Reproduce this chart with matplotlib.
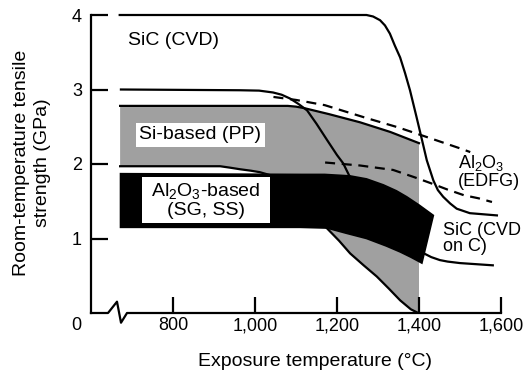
import matplotlib
matplotlib.use("Agg")
import matplotlib.pyplot as plt
from matplotlib.patches import Rectangle

plt.rcParams['font.family'] = ['Liberation Sans', 'DejaVu Sans']
plt.rcParams['mathtext.default'] = 'regular'

# SiC (CVD) fibre
sicCvdT = [670, 1272, 1288, 1305, 1317, 1329, 1341, 1354, 1366, 1378, 1394, 1407, 1419,
           1435, 1446, 1459, 1476, 1492, 1524, 1590]
sicCvdV = [4.0, 4.0, 3.98, 3.93, 3.86, 3.75, 3.59, 3.43, 3.22, 2.99, 2.63, 2.33, 2.05,
           1.78, 1.65, 1.56, 1.47, 1.40, 1.34, 1.31]

# SiC (CVD on C) fibre
sicOnCT = [673, 963, 1010, 1044, 1065, 1085, 1105, 1127, 1150, 1176, 1200, 1215, 1232,
           1320, 1412, 1430, 1451, 1470, 1500, 1580]
sicOnCV = [3.0, 2.99, 2.985, 2.96, 2.93, 2.88, 2.81, 2.72, 2.54, 2.32, 2.12, 2.01, 1.82,
           1.30, 0.80, 0.75, 0.71, 0.69, 0.67, 0.64]

# Si-based (PP) band
ppTopT = [671, 1080, 1100, 1120, 1180, 1256, 1330, 1400]
ppTopV = [2.78, 2.78, 2.77, 2.75, 2.67, 2.56, 2.43, 2.28]
ppLowLeftT = [671, 915, 940, 963, 990, 1012, 1037]
ppLowLeftV = [1.97, 1.97, 1.95, 1.93, 1.91, 1.89, 1.85]
ppLowRightT = [1175, 1205, 1232, 1265, 1297, 1326, 1354, 1380, 1398]
ppLowRightV = [1.14, 0.97, 0.80, 0.64, 0.49, 0.33, 0.17, 0.05, 0.0]

# Al2O3-based (SG, SS) band
alTopT = [672, 1110, 1170, 1232, 1272, 1313, 1345, 1370, 1400, 1435]
alTopV = [1.87, 1.86, 1.86, 1.84, 1.80, 1.72, 1.64, 1.56, 1.45, 1.31]
alBotT = [672, 1110, 1176, 1223, 1272, 1320, 1354, 1380, 1407]
alBotV = [1.15, 1.15, 1.14, 1.07, 1.00, 0.90, 0.82, 0.75, 0.67]

# Al2O3 (EDFG), two dashed curves
edfgUpT = [1045, 1100, 1170, 1270, 1350, 1420, 1500, 1525]
edfgUpV = [2.90, 2.86, 2.79, 2.62, 2.49, 2.36, 2.21, 2.16]
edfgLoT = [1171, 1256, 1337, 1390, 1430, 1468, 1510, 1545, 1578]
edfgLoV = [2.02, 1.98, 1.92, 1.82, 1.74, 1.66, 1.58, 1.54, 1.49]

xTicks = [800, 1000, 1200, 1400, 1600]
xTickLabels = ["800", "1,000", "1,200", "1,400", "1,600"]
yTicks = [1, 2, 3, 4]

fig = plt.figure(figsize=(5.25, 3.71), dpi=100)
ax = fig.add_axes([91 / 525, 58 / 371, 410 / 525, 298 / 371])
ax.set_xlim(600, 1600)
ax.set_ylim(0, 4)

lw = 1.6
gray = '#a0a0a0'

# gray band (Si-based)
grayX = ppTopT + [1400] + ppLowRightT[::-1] + ppLowLeftT[::-1]
grayY = ppTopV + [0.0] + ppLowRightV[::-1] + ppLowLeftV[::-1]
ax.fill(grayX, grayY, color=gray, lw=0, zorder=1)
ax.plot(ppTopT, ppTopV, color='black', lw=lw, zorder=3)
ax.plot(ppLowLeftT, ppLowLeftV, color='black', lw=lw, zorder=3)
ax.plot(ppLowRightT, ppLowRightV, color='black', lw=lw, zorder=3)

# solid curves
ax.plot(sicCvdT, sicCvdV, color='black', lw=lw, zorder=3, clip_on=False)
ax.plot(sicOnCT, sicOnCV, color='black', lw=lw, zorder=3)

# dashed curves
ax.plot(edfgUpT, edfgUpV, color='black', lw=lw, dashes=(4.5, 3), zorder=3)
ax.plot(edfgLoT, edfgLoV, color='black', lw=lw, dashes=(4.5, 3), zorder=3)

# black band (Al2O3-based)
ax.fill(alTopT + alBotT[::-1], alTopV + alBotV[::-1], facecolor='black',
        edgecolor='black', lw=1.2, zorder=4)

# white label boxes
ax.add_patch(Rectangle((724, 1.21), 313, 0.61, facecolor='white', edgecolor='none', zorder=5))
ax.text(880, 1.515, "Al$_2$O$_3$-based\n(SG, SS)", ha='center', va='center',
        fontsize=14, linespacing=1.05, zorder=6)
ax.text(866, 2.39, "Si-based (PP)", ha='center', va='center', fontsize=14, zorder=6,
        bbox=dict(boxstyle='square,pad=0.18', facecolor='white', edgecolor='none'))

ax.text(690, 3.66, "SiC (CVD)", ha='left', va='center', fontsize=14)
ax.text(1494, 1.90, "Al$_2$O$_3$\n(EDFG)", ha='left', va='center', fontsize=13, linespacing=1.0)
ax.text(1458, 1.0, "SiC (CVD\non C)", ha='left', va='center', fontsize=13, linespacing=0.95)

# axes styling
for side in ['top', 'right', 'bottom']:
    ax.spines[side].set_visible(False)
ax.spines['left'].set_linewidth(lw)

# bottom axis line with break mark
bx = [0, 0.0415, 0.0634, 0.0732, 0.0878, 1.0]
by = [0, 0, 0.038, -0.0326, 0, 0]
ax.plot(bx, by, color='black', lw=lw, transform=ax.transAxes, clip_on=False, zorder=3)

ax.set_xticks(xTicks)
ax.set_xticklabels(xTickLabels)
ax.set_yticks(yTicks)
ax.tick_params(axis='x', direction='in', length=11.5, width=lw, pad=3, labelsize=13)
ax.tick_params(axis='y', direction='in', length=12, width=lw, pad=6.5, labelsize=13)
ax.text(-0.037, -0.014, "0", transform=ax.transAxes, ha='center', va='top', fontsize=13)

fig.text(315 / 525, 1 - 361 / 371, "Exposure temperature (\u00b0C)", ha='center', va='center', fontsize=14)
fig.text(32 / 525, 1 - 163 / 371, "Room-temperature tensile\nstrength (GPa)", ha='center',
         va='center', rotation=90, fontsize=14, linespacing=1.25)

fig.savefig("out.png", dpi=100)
